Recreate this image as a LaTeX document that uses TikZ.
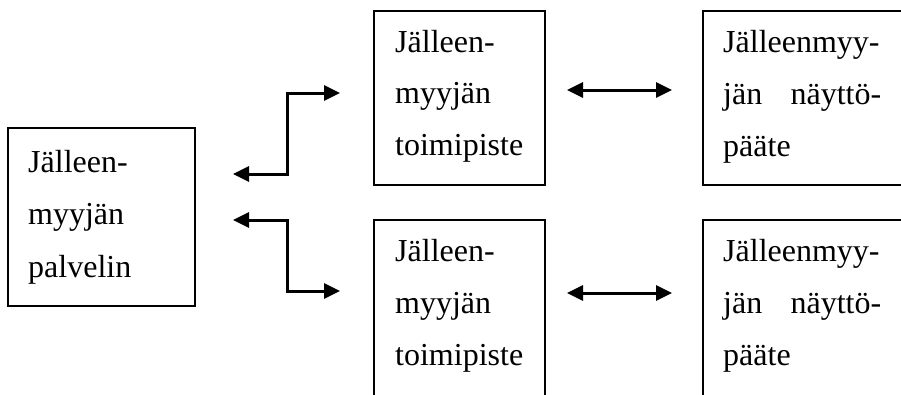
\documentclass[tikz,border=0pt]{standalone}
\usepackage{fontspec}
\setmainfont{Liberation Serif}
\usetikzlibrary{arrows.meta}
\tikzset{
  boxstyle/.style={draw=black, line width=2pt, fill=none},
  txt/.style={anchor=base west, inner sep=0pt, font=\fontsize{32}{38}\selectfont},
  conn/.style={line width=3pt, {Triangle[length=16pt,width=15pt]}-{Triangle[length=16pt,width=15pt]}},
}
\begin{document}
\begin{tikzpicture}[x=1pt,y=-1pt]
\useasboundingbox (0,0) rectangle (901,394);
\clip (0,0) rectangle (901,394);
% boxes
\draw[boxstyle] (8,128) rectangle (195,306);
\node[inner sep=0pt] (L) at (101.5,217) {};
\draw[boxstyle] (374,11) rectangle (545,185);
\node[inner sep=0pt] (M1) at (459.5,98) {};
\draw[boxstyle] (920,11) -- (703,11) -- (703,185) -- (920,185);
\node[inner sep=0pt] (R1) at (800,98) {};
\draw[boxstyle] (374,420) -- (374,220) -- (545,220) -- (545,420);
\node[inner sep=0pt] (M2) at (459.5,300) {};
\draw[boxstyle] (920,220) -- (703,220) -- (703,420);
\node[inner sep=0pt] (R2) at (800,300) {};
% texts
\node[txt] (tL) at (28,172) {\vtop{\baselineskip=52.5pt\hbox{Jälleen-}\hbox{myyjän}\hbox{palvelin}}};
\node[txt] (tM1) at (395,52) {\vtop{\baselineskip=51.5pt\hbox{Jälleen-}\hbox{myyjän}\hbox{toimipiste}}};
\node[txt] (tR1) at (723,52) {\vtop{\baselineskip=52pt\hbox{Jälleenmyy-}\hbox to 158pt{jän\hfill näyttö-}\hbox{pääte}}};
\node[txt] (tM2) at (395,261) {\vtop{\baselineskip=52pt\hbox{Jälleen-}\hbox{myyjän}\hbox{toimipiste}}};
\node[txt] (tR2) at (723,261) {\vtop{\baselineskip=52pt\hbox{Jälleenmyy-}\hbox to 158pt{jän\hfill näyttö-}\hbox{pääte}}};
% connector end points
\coordinate (a1) at (233,174);
\coordinate (a2) at (340,93);
\coordinate (b1) at (233,220);
\coordinate (b2) at (340,291);
\coordinate (c1) at (567,90);
\coordinate (c2) at (672,90);
\coordinate (d1) at (567,293);
\coordinate (d2) at (672,293);
% connectors
\draw[conn] (a1) -| (287,93) -- (a2);
\draw[conn] (b1) -| (287,291) -- (b2);
\draw[conn] (c1) -- (c2);
\draw[conn] (d1) -- (d2);
\end{tikzpicture}
\end{document}
